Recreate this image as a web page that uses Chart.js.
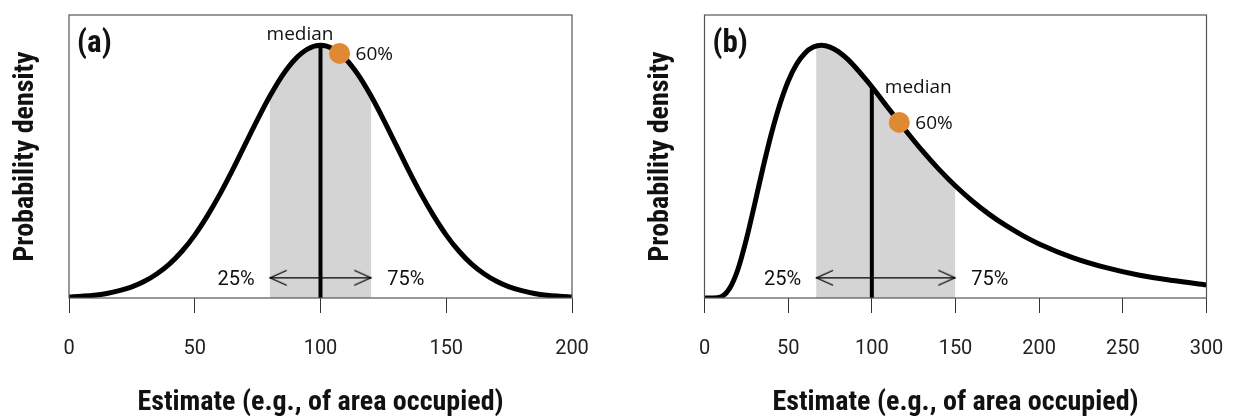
<!DOCTYPE html>
<html>
<head>
<meta charset="utf-8">
<script src="https://cdn.jsdelivr.net/npm/chart.js@4.4.1/dist/chart.umd.min.js"></script>
<style>
  html, body { margin: 0; padding: 0; background: #fff; }
  #wrap { position: relative; width: 1233px; height: 416px; }
  canvas { position: absolute; top: 0; }
</style>
</head>
<body>
<div id="wrap">
  <canvas id="panelA" width="616" height="416" style="left:0"></canvas>
  <canvas id="panelB" width="617" height="416" style="left:616px"></canvas>
</div>
<script>
// panel (a): symmetric density, relative to its peak
const xA = [0, 5, 10, 15, 20, 25, 30, 35, 40, 45, 50, 55, 60, 65, 70, 75, 80, 85, 90, 95, 100,
  105, 110, 115, 120, 125, 130, 135, 140, 145, 150, 155, 160, 165, 170, 175, 180, 185, 190, 195, 200];
const densA = [0.004, 0.007, 0.011, 0.018, 0.029, 0.044, 0.066, 0.096, 0.135, 0.186, 0.249,
  0.325, 0.411, 0.506, 0.607, 0.707, 0.801, 0.883, 0.946, 0.986, 1.0,
  0.986, 0.946, 0.883, 0.801, 0.707, 0.607, 0.506, 0.411, 0.325, 0.249,
  0.186, 0.135, 0.096, 0.066, 0.044, 0.029, 0.018, 0.011, 0.007, 0.004];
const quartA = [79.8, 120.2];
const quartDensA = [0.797, 0.797];
const medianA = 100, medianDensA = 1.0;
const p60A = 107.6, p60DensA = 0.968;
const ticksA = [0, 50, 100, 150, 200];

// panel (b): right-skewed density, relative to its peak
const xB = [0, 5, 10, 15, 20, 25, 30, 35, 40, 45, 50, 55, 60, 65, 70, 75, 80, 85, 90, 95, 100,
  110, 120, 130, 140, 150, 160, 170, 180, 190, 200, 220, 240, 260, 280, 300];
const densB = [0, 0.0001, 0.005, 0.038, 0.114, 0.232, 0.372, 0.517, 0.651, 0.766, 0.858,
  0.925, 0.969, 0.993, 1.0, 0.993, 0.975, 0.948, 0.914, 0.876, 0.836,
  0.750, 0.665, 0.584, 0.510, 0.443, 0.384, 0.332, 0.287, 0.248, 0.214,
  0.160, 0.120, 0.090, 0.069, 0.052];
const quartB = [66.7, 149.9];
const quartDensB = [0.998, 0.444];
const medianB = 100, medianDensB = 0.836;
const p60B = 116.4, p60DensB = 0.695;
const ticksB = [0, 50, 100, 150, 200, 250, 300];

const quartLabels = ["25%", "75%"];
const arrowLevel = 0.08;

const TITLE_FONT = '"Roboto Condensed", "Liberation Sans Narrow", "DejaVu Sans Condensed", Roboto, sans-serif';

function arrowHead() {
  const c = document.createElement("canvas");
  c.width = 36; c.height = 20;
  const g = c.getContext("2d");
  g.strokeStyle = "#000";
  g.lineWidth = 1.3;
  g.beginPath();
  g.moveTo(35, 2.5);
  g.lineTo(18.5, 10);
  g.lineTo(35, 17.5);
  g.stroke();
  return c;
}
const headImg = arrowHead();

function pts(xs, ys) {
  return xs.map((x, i) => ({ x, y: ys[i] }));
}

function makePanel(id, p) {
  const shadeX = [p.quart[0], ...p.xs.filter((x) => x > p.quart[0] && x < p.quart[1]), p.quart[1]];
  const shadeY = [p.quartDens[0],
    ...p.xs.map((x, i) => [x, p.ys[i]]).filter((d) => d[0] > p.quart[0] && d[0] < p.quart[1]).map((d) => d[1]),
    p.quartDens[1]];

  const labels = {
    id: "labels",
    afterDatasetsDraw(chart) {
      const { ctx, chartArea: a, scales: { x, y } } = chart;
      ctx.save();
      // frame
      ctx.strokeStyle = "#555";
      ctx.lineWidth = 1.2;
      ctx.strokeRect(a.left, a.top, a.right - a.left, a.bottom - a.top);
      ctx.fillStyle = "#111";
      ctx.textBaseline = "alphabetic";
      // panel letter
      ctx.font = "bold 31px " + TITLE_FONT;
      ctx.textAlign = "left";
      ctx.fillText(p.letter, a.left + 8, a.top + 37);
      // quartile labels
      ctx.font = "20px Roboto";
      const ay = y.getPixelForValue(arrowLevel) + 7.5;
      ctx.textAlign = "right";
      ctx.fillText(quartLabels[0], x.getPixelForValue(p.quart[0]) - 15, ay);
      ctx.textAlign = "left";
      ctx.fillText(quartLabels[1], x.getPixelForValue(p.quart[1]) + 16, ay);
      // median / 60%
      ctx.font = '19px "Open Sans"';
      const mx = x.getPixelForValue(p.median);
      const my = y.getPixelForValue(p.medianDens);
      if (p.medianSide === "right") {
        ctx.textAlign = "right";
        ctx.fillText("median", mx + 13, my - 5);
      } else {
        ctx.textAlign = "left";
        ctx.fillText("median", mx + 13, my + 6);
      }
      ctx.textAlign = "left";
      ctx.fillText("60%", x.getPixelForValue(p.p60) + 16, y.getPixelForValue(p.p60Dens) + 7);
      ctx.restore();
    },
  };

  return new Chart(document.getElementById(id), {
    type: "scatter",
    data: {
      datasets: [
        {
          data: [{ x: p.p60, y: p.p60Dens }],
          pointRadius: 10.5,
          pointBackgroundColor: "#DF8A33",
          pointBorderWidth: 0,
          clip: false,
        },
        {
          data: pts(p.xs, p.ys),
          showLine: true,
          borderColor: "#000",
          borderWidth: 5,
          pointRadius: 0,
          cubicInterpolationMode: "monotone",
        },
        {
          data: [{ x: p.median, y: 0 }, { x: p.median, y: p.medianDens }],
          showLine: true,
          borderColor: "#000",
          borderWidth: 4,
          pointRadius: 0,
        },
        {
          data: [{ x: p.quart[0], y: arrowLevel }, { x: p.quart[1], y: arrowLevel }],
          showLine: true,
          borderColor: "#000",
          borderWidth: 1.3,
          pointStyle: headImg,
          pointRotation: [0, 180],
          pointRadius: 10,
        },
        {
          data: pts(shadeX, shadeY),
          showLine: true,
          borderWidth: 0,
          borderColor: "rgba(0,0,0,0)",
          backgroundColor: "#D4D4D4",
          fill: "origin",
          pointRadius: 0,
          cubicInterpolationMode: "monotone",
        },
      ],
    },
    options: {
      responsive: false,
      animation: false,
      events: [],
      layout: { padding: p.padding },
      plugins: { legend: { display: false }, tooltip: { enabled: false } },
      scales: {
        x: {
          type: "linear",
          min: p.ticks[0],
          max: p.ticks[p.ticks.length - 1],
          afterBuildTicks: (s) => { s.ticks = p.ticks.map((v) => ({ value: v })); },
          afterFit: (s) => {
            s.height = 118;
            s.paddingLeft = 0;
            s.paddingRight = 0;
          },
          grid: { drawOnChartArea: false, drawTicks: true, tickLength: 15, color: "#333", lineWidth: 1 },
          border: { display: false },
          ticks: { font: { family: "Roboto", size: 20 }, color: "#222", padding: 24, maxRotation: 0 },
          title: {
            display: true,
            text: "Estimate (e.g., of area occupied)",
            font: { family: TITLE_FONT, size: 28, weight: "bold", lineHeight: 1 },
            color: "#111",
            padding: { top: 0, bottom: -1 },
          },
        },
        y: {
          type: "linear",
          min: 0,
          max: 1.12,
          afterFit: (s) => { s.width = p.yWidth; },
          grid: { display: false },
          border: { display: false },
          ticks: { display: false },
          title: {
            display: true,
            text: "Probability density",
            font: { family: TITLE_FONT, size: 28, weight: "bold", lineHeight: 1 },
            color: "#111",
            padding: { top: 12, bottom: 0 },
          },
        },
      },
    },
    plugins: [labels],
  });
}

makePanel("panelA", {
  letter: "(a)", xs: xA, ys: densA, quart: quartA, quartDens: quartDensA,
  median: medianA, medianDens: medianDensA, p60: p60A, p60Dens: p60DensA,
  ticks: ticksA, medianSide: "right", yWidth: 69,
  padding: { left: 0, right: 44, top: 15, bottom: 0 },
});

makePanel("panelB", {
  letter: "(b)", xs: xB, ys: densB, quart: quartB, quartDens: quartDensB,
  median: medianB, medianDens: medianDensB, p60: p60B, p60Dens: p60DensB,
  ticks: ticksB, medianSide: "left", yWidth: 69.5,
  padding: { left: 19, right: 26.5, top: 15, bottom: 0 },
});
</script>
</body>
</html>
